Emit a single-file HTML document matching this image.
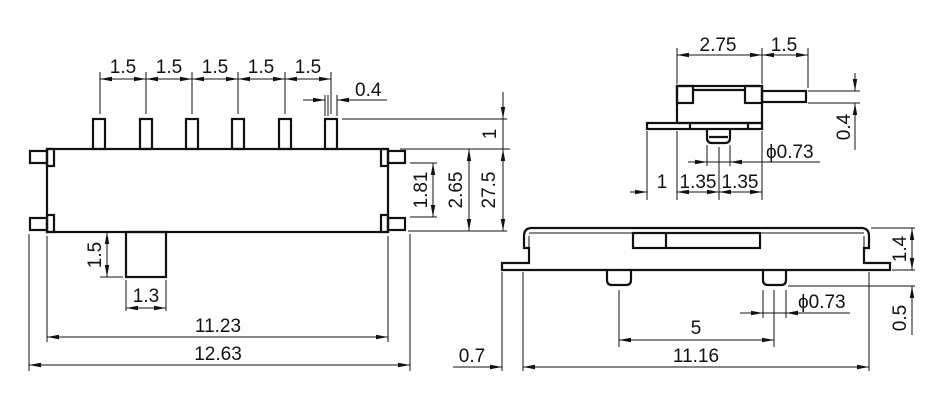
<!DOCTYPE html>
<html><head><meta charset="utf-8"><style>
html,body{margin:0;padding:0;background:#fff;}
svg{display:block;}
text{font-family:"Liberation Sans",sans-serif;font-size:19px;fill:#111;}
</style></head><body>
<svg width="930" height="412" viewBox="0 0 930 412" xmlns="http://www.w3.org/2000/svg">
<defs>
<marker id="a" viewBox="0 0 12 6" refX="12" refY="3" markerWidth="12" markerHeight="6" orient="auto-start-reverse" markerUnits="userSpaceOnUse"><path d="M0,0.8 L12,3 L0,5.2 Z" fill="#111"/></marker>
</defs>
<g fill="none" stroke="#111" stroke-width="1">
<g stroke-width="2.2">
<rect x="47" y="149" width="341" height="83"/>
<rect x="93" y="119" width="12" height="30"/>
<rect x="140" y="119" width="12" height="30"/>
<rect x="186" y="119" width="12" height="30"/>
<rect x="232" y="119" width="12" height="30"/>
<rect x="279" y="119" width="12" height="30"/>
<rect x="325" y="119" width="12" height="30"/>
<rect x="30" y="151" width="17" height="12"/>
<rect x="47" y="149" width="7" height="17"/>
<rect x="30" y="218" width="17" height="12"/>
<rect x="47" y="215" width="7" height="17"/>
<rect x="388" y="151" width="17" height="12"/>
<rect x="381" y="149" width="7" height="17"/>
<rect x="388" y="218" width="17" height="12"/>
<rect x="381" y="215" width="7" height="17"/>
<rect x="126" y="232" width="40" height="45"/>
</g>
<line x1="100" y1="72" x2="100" y2="114"/><line x1="146" y1="72" x2="146" y2="114"/><line x1="192" y1="72" x2="192" y2="114"/><line x1="238" y1="72" x2="238" y2="114"/><line x1="285" y1="72" x2="285" y2="114"/><line x1="331" y1="72" x2="331" y2="114"/>
<line x1="100" y1="79" x2="146" y2="79" marker-start="url(#a)" marker-end="url(#a)"/>
<line x1="146" y1="79" x2="192" y2="79" marker-start="url(#a)" marker-end="url(#a)"/>
<line x1="192" y1="79" x2="238" y2="79" marker-start="url(#a)" marker-end="url(#a)"/>
<line x1="238" y1="79" x2="285" y2="79" marker-start="url(#a)" marker-end="url(#a)"/>
<line x1="285" y1="79" x2="331" y2="79" marker-start="url(#a)" marker-end="url(#a)"/>
<line x1="325" y1="95" x2="325" y2="116"/><line x1="328" y1="95" x2="328" y2="116"/><line x1="337" y1="95" x2="337" y2="116"/>
<line x1="303" y1="100" x2="325" y2="100" marker-end="url(#a)"/>
<line x1="387" y1="100" x2="337" y2="100" marker-end="url(#a)"/>
<line x1="342" y1="119" x2="507" y2="119"/>
<line x1="400" y1="149" x2="510" y2="149"/>
<line x1="408" y1="231" x2="507" y2="231"/>
<line x1="410" y1="163" x2="437" y2="163"/><line x1="410" y1="217" x2="437" y2="217"/>
<line x1="433" y1="163" x2="433" y2="217" marker-start="url(#a)" marker-end="url(#a)"/>
<line x1="469" y1="149" x2="469" y2="231" marker-start="url(#a)" marker-end="url(#a)"/>
<line x1="503" y1="92" x2="503" y2="119" marker-end="url(#a)"/>
<line x1="503" y1="119" x2="503" y2="149"/>
<line x1="503" y1="149" x2="503" y2="231" marker-start="url(#a)" marker-end="url(#a)"/>
<line x1="100" y1="277" x2="123" y2="277"/>
<line x1="107" y1="232" x2="107" y2="277" marker-start="url(#a)" marker-end="url(#a)"/>
<line x1="126" y1="280" x2="126" y2="311"/><line x1="166" y1="280" x2="166" y2="311"/>
<line x1="126" y1="308" x2="166" y2="308" marker-start="url(#a)" marker-end="url(#a)"/>
<line x1="47" y1="236" x2="47" y2="342"/><line x1="388" y1="236" x2="388" y2="342"/>
<line x1="47" y1="337" x2="388" y2="337" marker-start="url(#a)" marker-end="url(#a)"/>
<line x1="29" y1="234" x2="29" y2="371"/><line x1="410" y1="234" x2="410" y2="371"/>
<line x1="29" y1="365" x2="410" y2="365" marker-start="url(#a)" marker-end="url(#a)"/>

<g stroke-width="2.2">
<rect x="677" y="86" width="85" height="37"/>
<rect x="677" y="86" width="16" height="17"/>
<rect x="745" y="86" width="17" height="17"/>
<line x1="693" y1="90" x2="745" y2="90"/>
<rect x="762" y="91" width="44" height="11"/>
<rect x="647" y="123" width="115" height="6"/>
<line x1="690" y1="123" x2="690" y2="129"/><line x1="748" y1="123" x2="748" y2="129"/>
<path d="M707,129 V138 Q707,143 712,143 H725 Q730,143 730,138 V129"/>
<line x1="709" y1="137" x2="728" y2="137"/>
</g>
<line x1="677" y1="48" x2="677" y2="84"/><line x1="762" y1="48" x2="762" y2="84"/><line x1="808" y1="48" x2="808" y2="88"/>
<line x1="677" y1="55" x2="762" y2="55" marker-start="url(#a)" marker-end="url(#a)"/>
<line x1="762" y1="55" x2="808" y2="55" marker-start="url(#a)" marker-end="url(#a)"/>
<line x1="808" y1="91" x2="860" y2="91"/><line x1="808" y1="103" x2="860" y2="103"/>
<line x1="855" y1="73" x2="855" y2="91" marker-end="url(#a)"/>
<line x1="855" y1="150" x2="855" y2="103" marker-end="url(#a)"/>
<line x1="707" y1="145" x2="707" y2="166"/><line x1="730" y1="145" x2="730" y2="166"/>
<line x1="688" y1="162" x2="820" y2="162"/>
<line x1="688" y1="162" x2="707" y2="162" marker-end="url(#a)"/>
<line x1="820" y1="162" x2="730" y2="162" marker-end="url(#a)"/>
<line x1="647" y1="131" x2="647" y2="200"/><line x1="677" y1="131" x2="677" y2="200"/><line x1="719" y1="147" x2="719" y2="200"/><line x1="762" y1="131" x2="762" y2="200"/>
<line x1="630" y1="192" x2="647" y2="192" marker-end="url(#a)"/>
<line x1="677" y1="192" x2="719" y2="192" marker-start="url(#a)" marker-end="url(#a)"/>
<line x1="719" y1="192" x2="762" y2="192" marker-start="url(#a)" marker-end="url(#a)"/>

<g stroke-width="2.2">
<path d="M502,263 H529 V248 H524 V236 Q524,228 532,228 H861 Q869,228 869,236 V248 H864 V263 H890 V270 H502 Z"/>
<rect x="633" y="233" width="127" height="15"/>
<line x1="666" y1="233" x2="666" y2="248"/>
<path d="M607,270 V280 Q607,285 612,285 H626 Q631,285 631,280 V270"/>
<path d="M763,270 V280 Q763,285 768,285 H781 Q786,285 786,280 V270"/>
</g>
<line x1="529" y1="236" x2="529" y2="248"/><line x1="864" y1="236" x2="864" y2="248"/>
<line x1="529" y1="233" x2="864" y2="233"/>
<line x1="871" y1="228" x2="915" y2="228"/><line x1="892" y1="270" x2="915" y2="270"/>
<line x1="912" y1="228" x2="912" y2="270" marker-start="url(#a)" marker-end="url(#a)"/>
<line x1="788" y1="286" x2="915" y2="286"/>
<line x1="912" y1="335" x2="912" y2="286" marker-end="url(#a)"/>
<line x1="763" y1="290" x2="763" y2="318"/><line x1="786" y1="290" x2="786" y2="318"/>
<line x1="740" y1="313" x2="850" y2="313"/>
<line x1="740" y1="313" x2="763" y2="313" marker-end="url(#a)"/>
<line x1="850" y1="313" x2="786" y2="313" marker-end="url(#a)"/>
<line x1="619" y1="290" x2="619" y2="347"/><line x1="774" y1="290" x2="774" y2="347"/>
<line x1="619" y1="340" x2="774" y2="340" marker-start="url(#a)" marker-end="url(#a)"/>
<line x1="502" y1="272" x2="502" y2="371"/><line x1="523" y1="272" x2="523" y2="371"/><line x1="869" y1="272" x2="869" y2="371"/>
<line x1="453" y1="367" x2="502" y2="367" marker-end="url(#a)"/>
<line x1="523" y1="367" x2="869" y2="367" marker-start="url(#a)" marker-end="url(#a)"/>
</g>

<g>
<text x="123" y="73" text-anchor="middle">1.5</text>
<text x="169" y="73" text-anchor="middle">1.5</text>
<text x="215" y="73" text-anchor="middle">1.5</text>
<text x="261" y="73" text-anchor="middle">1.5</text>
<text x="308" y="73" text-anchor="middle">1.5</text>
<text x="355" y="96">0.4</text>
<text transform="translate(496,134) rotate(-90)" text-anchor="middle">1</text>
<text transform="translate(427,190) rotate(-90)" text-anchor="middle">1.81</text>
<text transform="translate(462,190) rotate(-90)" text-anchor="middle">2.65</text>
<text transform="translate(495,190) rotate(-90)" text-anchor="middle">27.5</text>
<text transform="translate(101,255) rotate(-90)" text-anchor="middle">1.5</text>
<text x="146" y="302" text-anchor="middle">1.3</text>
<text x="218" y="332" text-anchor="middle">11.23</text>
<text x="218" y="360" text-anchor="middle">12.63</text>
<text x="718" y="51" text-anchor="middle">2.75</text>
<text x="784" y="51" text-anchor="middle">1.5</text>
<text transform="translate(850,127) rotate(-90)" text-anchor="middle">0.4</text>
<text x="766" y="158">ϕ0.73</text>
<text x="662" y="188" text-anchor="middle">1</text>
<text x="698" y="188" text-anchor="middle">1.35</text>
<text x="740" y="188" text-anchor="middle">1.35</text>
<text transform="translate(906,249) rotate(-90)" text-anchor="middle">1.4</text>
<text transform="translate(906,318) rotate(-90)" text-anchor="middle">0.5</text>
<text x="798" y="308">ϕ0.73</text>
<text x="696" y="334" text-anchor="middle">5</text>
<text x="472" y="362" text-anchor="middle">0.7</text>
<text x="696" y="362" text-anchor="middle">11.16</text>
</g>
</svg>
</body></html>
